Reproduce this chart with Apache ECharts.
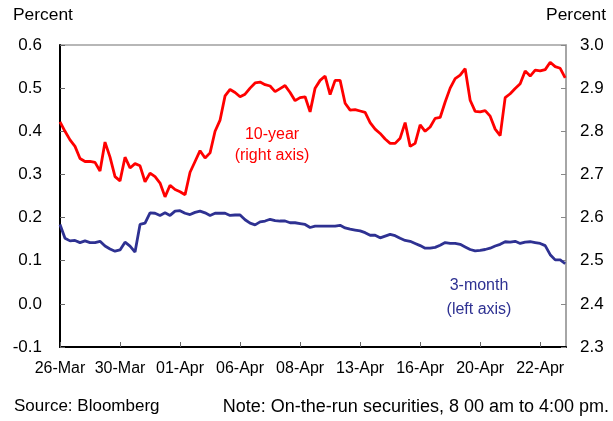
<!DOCTYPE html>
<html>
<head>
<meta charset="utf-8">
<script src="https://cdn.jsdelivr.net/npm/echarts@6/dist/echarts.min.js"></script>
<style>
  html, body { margin: 0; padding: 0; background: #fff; }
  #chart { width: 613px; height: 421px; }
</style>
</head>
<body>
<div id="chart"></div>
<script>
// date labels, one per x tick
const dateLabels = ['26-Mar', '30-Mar', '01-Apr', '06-Apr', '08-Apr', '13-Apr', '16-Apr', '20-Apr', '22-Apr']
// intraday readings per tick interval
const PER_TICK = 12

// 10-year yield, percent (right axis)
const tenYear = [
  2.822, 2.800, 2.780, 2.765, 2.737, 2.730, 2.730, 2.728, 2.708, 2.775,
  2.740, 2.695, 2.685, 2.740, 2.715, 2.725, 2.720, 2.683, 2.703, 2.695,
  2.680, 2.648, 2.675, 2.665, 2.660, 2.653, 2.705, 2.730, 2.755, 2.738,
  2.750, 2.800, 2.826, 2.882, 2.897, 2.890, 2.880, 2.886, 2.900, 2.912,
  2.914, 2.908, 2.905, 2.892, 2.899, 2.906, 2.890, 2.871, 2.878, 2.880,
  2.845, 2.900, 2.918, 2.928, 2.885, 2.918, 2.918, 2.865, 2.849, 2.850,
  2.847, 2.844, 2.820, 2.805, 2.795, 2.782, 2.772, 2.772, 2.784, 2.820,
  2.765, 2.772, 2.815, 2.800, 2.810, 2.830, 2.832, 2.868, 2.900, 2.922,
  2.930, 2.945, 2.872, 2.846, 2.845, 2.848, 2.835, 2.805, 2.790, 2.878,
  2.887, 2.899, 2.910, 2.940, 2.928, 2.942, 2.940, 2.943, 2.960, 2.950,
  2.946, 2.924
]

// 3-month yield, percent (left axis)
const threeMonth = [
  0.184, 0.152, 0.146, 0.147, 0.142, 0.146, 0.142, 0.142, 0.145, 0.134,
  0.127, 0.122, 0.125, 0.143, 0.134, 0.120, 0.184, 0.187, 0.211, 0.210,
  0.205, 0.211, 0.205, 0.215, 0.216, 0.210, 0.207, 0.212, 0.215, 0.211,
  0.205, 0.210, 0.210, 0.210, 0.205, 0.206, 0.206, 0.195, 0.187, 0.183,
  0.190, 0.192, 0.196, 0.193, 0.192, 0.192, 0.188, 0.188, 0.186, 0.184,
  0.177, 0.180, 0.180, 0.180, 0.180, 0.180, 0.182, 0.176, 0.173, 0.171,
  0.169, 0.165, 0.159, 0.159, 0.153, 0.157, 0.161, 0.158, 0.152, 0.147,
  0.145, 0.140, 0.135, 0.129, 0.129, 0.131, 0.136, 0.142, 0.140, 0.140,
  0.138, 0.132, 0.126, 0.123, 0.124, 0.126, 0.129, 0.134, 0.138, 0.144,
  0.143, 0.145, 0.140, 0.143, 0.144, 0.142, 0.140, 0.135, 0.114, 0.102,
  0.102, 0.093
]

const font = 'Liberation Sans, Arial, sans-serif'
const red = '#ff0000'
const blue = '#2e3192'

function toPoints(arr) {
  return arr.map((v, i) => [i / PER_TICK, v])
}

const chart = echarts.init(document.getElementById('chart'))
chart.setOption({
  animation: false,
  backgroundColor: '#fff',
  textStyle: { fontFamily: font },
  grid: {
    left: 60,
    right: 47,
    top: 45,
    bottom: 74,
    show: true,
    borderColor: '#a0a0a0',
    borderWidth: 1.5
  },
  xAxis: {
    type: 'value',
    min: 0,
    max: 8.43,
    interval: 1,
    splitLine: { show: false },
    axisLine: { onZero: false, lineStyle: { color: '#000', width: 2 } },
    axisTick: { inside: true, length: 5, lineStyle: { color: '#666' } },
    axisLabel: {
      color: '#000',
      fontSize: 16,
      fontFamily: font,
      margin: 14,
      showMaxLabel: false,
      formatter: function (v) {
        return Number.isInteger(v) && dateLabels[v] ? dateLabels[v] : ''
      }
    }
  },
  yAxis: [
    {
      type: 'value',
      min: -0.1,
      max: 0.6,
      interval: 0.1,
      splitLine: { show: false },
      axisLine: { show: true, onZero: false, lineStyle: { color: '#000', width: 2 } },
      axisTick: { show: true, inside: true, length: 5, lineStyle: { color: '#666' } },
      axisLabel: {
        color: '#000',
        fontSize: 17,
        fontFamily: font,
        margin: 18,
        formatter: v => v.toFixed(1)
      }
    },
    {
      type: 'value',
      min: 2.3,
      max: 3.0,
      interval: 0.1,
      position: 'right',
      splitLine: { show: false },
      axisLine: { show: true, onZero: false, lineStyle: { color: '#a0a0a0', width: 1.5 } },
      axisTick: { show: true, inside: true, length: 5, lineStyle: { color: '#888' } },
      axisLabel: {
        color: '#000',
        fontSize: 17,
        fontFamily: font,
        margin: 14,
        formatter: v => v.toFixed(1)
      }
    }
  ],
  series: [
    {
      name: '3-month',
      type: 'line',
      yAxisIndex: 0,
      data: toPoints(threeMonth),
      showSymbol: false,
      lineStyle: { color: blue, width: 2.8 },
      z: 3
    },
    {
      name: '10-year',
      type: 'line',
      yAxisIndex: 1,
      data: toPoints(tenYear),
      showSymbol: false,
      lineStyle: { color: red, width: 2.8 },
      z: 4
    }
  ],
  graphic: [
    { type: 'text', left: 13, top: 7, style: { text: 'Percent', font: '17.4px ' + font, fill: '#000' } },
    { type: 'text', right: 7, top: 7, style: { text: 'Percent', font: '17.4px ' + font, fill: '#000' } },
    {
      type: 'text', x: 272, y: 145,
      style: { text: '10-year\n(right axis)', font: '16px ' + font, fill: red, align: 'center', verticalAlign: 'middle', lineHeight: 21 }
    },
    {
      type: 'text', x: 479, y: 298,
      style: { text: '3-month\n(left axis)', font: '16px ' + font, fill: blue, align: 'center', verticalAlign: 'middle', lineHeight: 24 }
    },
    { type: 'text', left: 14, top: 398, style: { text: 'Source: Bloomberg', font: '17px ' + font, fill: '#000' } },
    { type: 'text', right: 4, top: 398, style: { text: 'Note: On-the-run securities, 8 00 am to 4:00 pm.', font: '18px ' + font, fill: '#000' } }
  ]
})
</script>
</body>
</html>
